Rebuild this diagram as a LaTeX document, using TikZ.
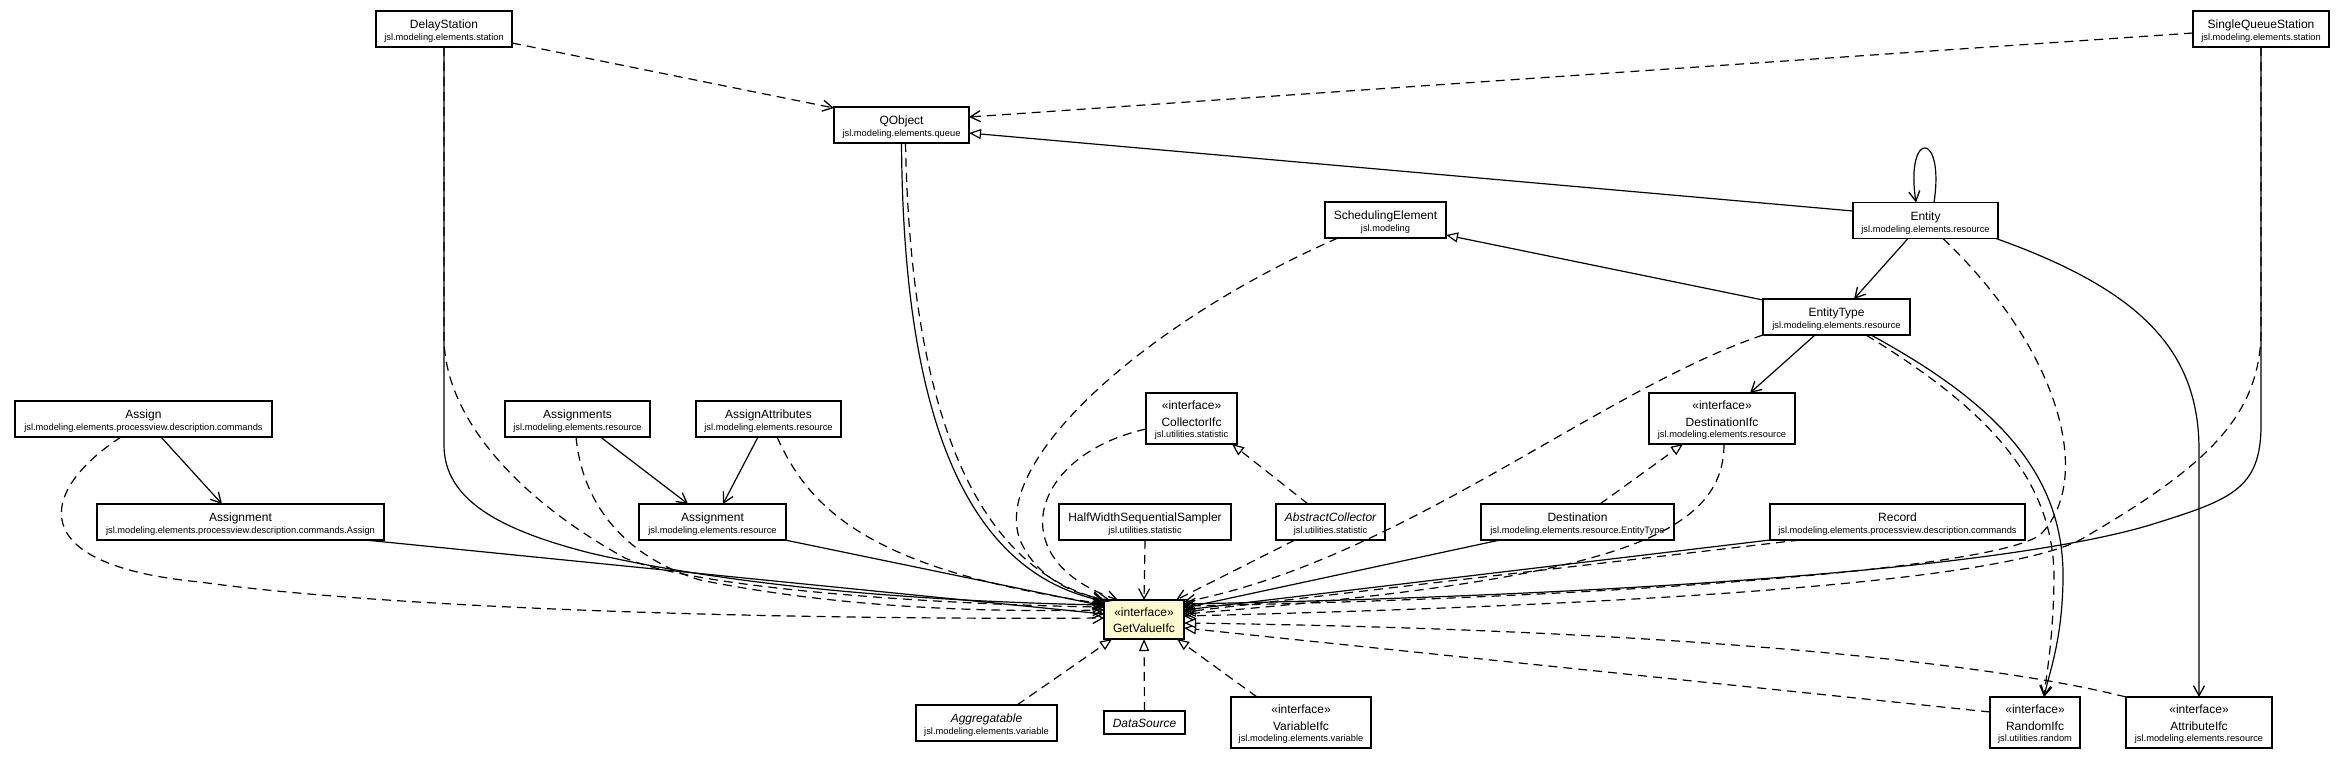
\documentclass[tikz,border=0pt]{standalone}
\usepackage{fontspec}
\setmainfont{Liberation Sans}
\usetikzlibrary{arrows.meta}
\definecolor{ifcyellow}{RGB}{255,250,205}
\tikzset{
  box/.style={draw=black, line width=1.4pt, fill=white, inner sep=0pt, outer sep=0pt},
  ttl/.style={inner sep=0pt, anchor=base, font=\fontsize{12}{14}\selectfont},
  pkg/.style={inner sep=0pt, anchor=base, font=\fontsize{9.3}{11}\selectfont},
  edge/.style={draw=black, line width=1.2pt},
  dsh/.style={dash pattern=on 9pt off 6pt},
  openarr/.style={-{Straight Barb[length=10pt,width=11pt,line width=1.3pt]}},
  triarr/.style={-{Triangle[open,length=12pt,width=10pt,line width=1.2pt,fill=white]}},
  nav/.style={edge, openarr},
  dep/.style={edge, dsh, openarr},
  ext/.style={edge, triarr},
  impl/.style={edge, dsh, triarr},
}
\newcommand\umlcls[6]{%
  \node[box, minimum width=#4pt, minimum height=36pt] (#1) at (#2,#3) {};
  \node[ttl] (#1-t) at ([yshift=0.3pt]#1.center) {#5};
  \node[pkg] (#1-p) at ([yshift=-11.5pt]#1.center) {#6};
}
\newcommand\umlifc[6]{%
  \node[box, minimum width=#4pt, minimum height=51pt] (#1) at (#2,#3) {};
  \node[ttl] (#1-s) at ([yshift=8.8pt]#1.center) {«interface»};
  \node[ttl] (#1-t) at ([yshift=-7.5pt]#1.center) {#5};
  \node[pkg] (#1-p) at ([yshift=-18.9pt]#1.center) {#6};
}
\begin{document}
\begin{tikzpicture}[x=1pt,y=-1pt]
\fill[white] (0,0) rectangle (2345,760);
\useasboundingbox (0,0) rectangle (2345,760);

% ---- nodes ----
\umlcls{ds}{444}{29}{136}{DelayStation}{jsl.modeling.elements.station}
\umlcls{qo}{901.5}{125}{135}{QObject}{jsl.modeling.elements.queue}
\umlcls{sqs}{2261}{29}{136}{SingleQueueStation}{jsl.modeling.elements.station}
\umlcls{ent}{1925.5}{220.5}{145}{Entity}{jsl.modeling.elements.resource}
\umlcls{se}{1385.5}{220}{121}{SchedulingElement}{jsl.modeling}
\umlcls{et}{1836.5}{317}{147}{EntityType}{jsl.modeling.elements.resource}
\umlcls{asg}{143.5}{419}{257}{Assign}{jsl.modeling.elements.processview.description.commands}
\umlcls{asgs}{577.5}{419}{145}{Assignments}{jsl.modeling.elements.resource}
\umlcls{asga}{768.5}{419}{145}{AssignAttributes}{jsl.modeling.elements.resource}
\umlifc{col}{1191.5}{418.5}{91}{CollectorIfc}{jsl.utilities.statistic}
\umlifc{dst}{1722}{418.5}{146}{DestinationIfc}{jsl.modeling.elements.resource}
\umlcls{amA}{240.5}{522}{287}{Assignment}{jsl.modeling.elements.processview.description.commands.Assign}
\umlcls{amR}{712.5}{522}{147}{Assignment}{jsl.modeling.elements.resource}
\umlcls{hw}{1145}{522}{172}{HalfWidthSequentialSampler}{jsl.utilities.statistic}
\umlcls{ac}{1330.5}{522}{109}{\itshape AbstractCollector}{jsl.utilities.statistic}
\umlcls{de}{1577.5}{522}{193}{Destination}{jsl.modeling.elements.resource.EntityType}
\umlcls{rec}{1897.5}{522}{255}{Record}{jsl.modeling.elements.processview.description.commands}
\node[box, fill=ifcyellow, minimum width=80pt, minimum height=39pt] (gv) at (1144,619.5) {};
\node[ttl] (gv-s) at ([yshift=2.8pt]gv.center) {«interface»};
\node[ttl] (gv-t) at ([yshift=-13.2pt]gv.center) {GetValueIfc};
\umlcls{agg}{986.5}{723}{141}{\itshape Aggregatable}{jsl.modeling.elements.variable}
\node[box, minimum width=81pt, minimum height=23pt] (das) at (1144.5,722.5) {};
\node[ttl] (das-t) at ([yshift=-4.8pt]das.center) {\itshape DataSource};
\umlifc{var}{1301}{722.5}{140}{VariableIfc}{jsl.modeling.elements.variable}
\umlifc{rnd}{2035}{722.5}{90}{RandomIfc}{jsl.utilities.random}
\umlifc{att}{2199}{722.5}{146}{AttributeIfc}{jsl.modeling.elements.resource}

% ---- connectors among upper classes ----
\draw[dep] ([yshift=-14pt]ds.east) -- ([yshift=-1pt]qo.north west);
\draw[dep] ([yshift=-4pt]sqs.west) -- ([yshift=8pt]qo.east);
\draw[ext] ([yshift=9.5pt]ent.west) -- ([yshift=-8pt]qo.east);
\draw[ext] ([yshift=-1pt]et.north west) -- ([yshift=-15pt]se.east);
\draw[nav] ([xshift=-17.5pt]ent.south) -- ([xshift=17.5pt]et.north);
\draw[nav] ([xshift=-21.5pt]et.south) -- ([xshift=28pt]dst.north);
\draw[nav] ([xshift=8.5pt]ent.north) .. controls (1945,130) and (1905,130) .. ([xshift=-9.5pt]ent.north);
\draw[nav] ([xshift=-2pt]ent.south east) .. controls (2140,290) and (2199,350) .. (2199,450) -- (att.north);
\draw[nav] ([xshift=34.5pt]et.south) .. controls (1990,400) and (2065,470) .. (2063,580) .. controls (2062,640) and (2050,670) .. ([xshift=9pt]rnd.north);
\draw[dep] ([xshift=29.5pt]et.south) .. controls (1980,405) and (2055,475) .. (2054,580) .. controls (2053,640) and (2047,670) .. ([xshift=9pt]rnd.north);
\draw[impl] ([xshift=-22.5pt]ac.north) -- ([xshift=-5pt]col.south east);
\draw[impl] ([xshift=22.5pt]de.north) -- ([xshift=-39pt]dst.south);
\draw[nav] ([xshift=17.5pt]asg.south) -- ([xshift=-18.5pt]amA.north);
\draw[nav] ([xshift=23pt]asgs.south) -- ([xshift=-24.5pt]amR.north);
\draw[nav] ([xshift=-10.5pt]asga.south) -- ([xshift=10.5pt]amR.north);

% ---- connectors into GetValueIfc from the left and top ----
\draw[nav] (ds.south) -- (444,445) .. controls (444,500) and (500,530) .. (590,553) .. controls (750,590) and (950,602) .. ([yshift=14.5pt]gv.west);
\draw[dep] (ds.south) -- (444,340) .. controls (446,420) and (520,500) .. (625,558) .. controls (700,590) and (950,605) .. ([yshift=12.5pt]gv.west);
\draw[dep] ([xshift=-22.5pt]asg.south) .. controls (40,490) and (20,565) .. (200,582) .. controls (400,610) and (800,620) .. ([yshift=1.5pt]gv.west);
\draw[nav] ([xshift=-19pt]amA.south east) -- ([yshift=5.5pt]gv.west);
\draw[dep] ([xshift=-1.5pt]asgs.south) .. controls (582,500) and (620,555) .. (700,580) .. controls (850,610) and (1000,612) .. ([yshift=9.5pt]gv.west);
\draw[nav] ([xshift=-1pt]amR.south east) -- ([yshift=13.5pt]gv.west);
\draw[dep] ([xshift=8.5pt]asga.south) .. controls (810,510) and (870,570) .. ([yshift=15.5pt]gv.west);
\draw[nav] (qo.south) .. controls (903,380) and (950,570) .. ([yshift=-1pt]gv.north west);
\draw[dep] ([xshift=4pt]qo.south) .. controls (910,380) and (962,565) .. (gv.north west);
\draw[dep] ([xshift=-47.5pt]se.south) .. controls (1150,320) and (990,460) .. (1020,540) .. controls (1035,575) and (1070,595) .. ([xshift=6pt]gv.north west);
\draw[dep] ([yshift=-10.5pt]col.west) .. controls (1030,455) and (1000,560) .. ([xshift=14pt]gv.north west);
\draw[dep] (hw.south) -- (gv.north);
\draw[dep] ([xshift=-35.5pt]ac.south) -- ([xshift=-8pt]gv.north east);

% ---- connectors into GetValueIfc from the right ----
\draw[dep] (et.south west) .. controls (1600,390) and (1400,560) .. ([yshift=-2pt]gv.north east);
\draw[nav] ([xshift=19pt]de.south west) -- ([yshift=11.5pt]gv.east);
\draw[nav] (rec.south west) -- ([yshift=9.5pt]gv.east);
\draw[dep] ([xshift=30pt]rec.south west) -- ([yshift=7.5pt]gv.east);
\draw[dep] ([xshift=2pt]dst.south) .. controls (1724,540) and (1600,580) .. ([yshift=5.5pt]gv.east);
\draw[dep] ([xshift=17.5pt]ent.south) .. controls (2060,350) and (2095,480) .. (2040,535) .. controls (1990,570) and (1600,598) .. ([yshift=13.5pt]gv.east);
\draw[nav] (sqs.south) -- (2261,425) .. controls (2261,490) and (2230,500) .. (2150,525) .. controls (2000,570) and (1600,596) .. ([yshift=15.5pt]gv.east);
\draw[dep] (sqs.south) -- (2261,330) .. controls (2261,420) and (2200,470) .. (2080,540) .. controls (1990,585) and (1600,606) .. ([yshift=3.5pt]gv.east);
\draw[impl] ([yshift=10.5pt]rnd.west) -- ([yshift=-8.5pt]gv.east);
\draw[impl] (att.north west) .. controls (2000,665) and (1700,630) .. ([yshift=-3.5pt]gv.east);

% ---- connectors into GetValueIfc from below ----
\draw[impl] ([xshift=30.5pt]agg.north) -- ([xshift=8pt]gv.south west);
\draw[impl] (das.north) -- (gv.south);
\draw[impl] ([xshift=26pt]var.north west) -- ([xshift=-7pt]gv.south east);
\end{tikzpicture}
\end{document}
